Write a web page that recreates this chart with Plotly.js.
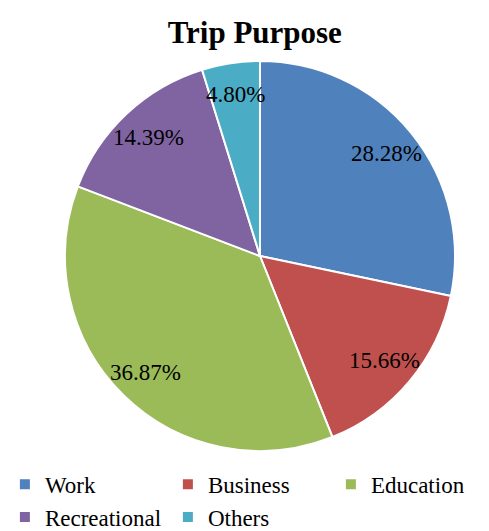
<!DOCTYPE html>
<html>
<head>
<meta charset="utf-8">
<script src="https://cdn.plot.ly/plotly-3.0.1.min.js"></script>
<style>html,body{margin:0;padding:0;background:#fff;overflow:hidden;}#chart{width:489px;height:531px;}</style>
</head>
<body>
<div id="chart"></div>
<script>
const categories = ["Work", "Business", "Education", "Recreational", "Others"];
const values = [28.28, 15.66, 36.87, 14.39, 4.80];
const colors = ["#4F81BD", "#C0504D", "#9BBB59", "#8064A2", "#4BACC6"];

const SERIF = "'Liberation Serif', 'Times New Roman', serif";
const W = 489, H = 531;
const pieDomainX = [65 / W, 455 / W];
const pieDomainY = [0, 1];

// label positions derived from the slice angles (Excel-style, ~0.836 of radius)
const total = values.reduce((a, b) => a + b, 0);
const cx = (pieDomainX[0] + pieDomainX[1]) / 2, rx = (pieDomainX[1] - pieDomainX[0]) / 2;
const cy = (pieDomainY[0] + pieDomainY[1]) / 2, ry = (pieDomainY[1] - pieDomainY[0]) / 2;
let cum = 0;
const annotations = values.map((v) => {
  const mid = (cum + v / 2) / total * 2 * Math.PI;
  cum += v;
  const k = 0.836;
  return {
    x: cx + k * rx * Math.sin(mid), y: cy + k * ry * Math.cos(mid),
    xref: "paper", yref: "paper", xanchor: "center", yanchor: "middle",
    text: v.toFixed(2) + "%", showarrow: false,
    font: {family: SERIF, size: 23, color: "#000"}
  };
});

const trace = {
  type: "pie",
  labels: categories,
  values: values,
  sort: false,
  direction: "clockwise",
  rotation: 0,
  marker: {colors: colors, line: {color: "#ffffff", width: 2}},
  textinfo: "none",
  hoverinfo: "label+percent",
  domain: {x: pieDomainX, y: pieDomainY}
};

const layout = {
  width: W,
  height: H,
  paper_bgcolor: "#fff",
  margin: {l: 0, r: 0, t: 61, b: 80, autoexpand: false},
  font: {family: SERIF, color: "#000"},
  title: {text: "<b>Trip Purpose</b>", x: 0.521, xanchor: "center", y: 0.94, yanchor: "middle", yref: "container",
          font: {family: SERIF, size: 31, color: "#000"}},
  annotations: annotations,
  showlegend: true,
  legend: {orientation: "h", x: 0.01, xanchor: "left", y: -0.03, yanchor: "top",
           font: {family: SERIF, size: 23, color: "#000"},
           entrywidth: 118, entrywidthmode: "pixels", itemwidth: 30, tracegroupgap: 0,
           traceorder: "normal"}
};

Plotly.newPlot("chart", [trace], layout, {displayModeBar: false, staticPlot: true});
</script>
</body>
</html>
